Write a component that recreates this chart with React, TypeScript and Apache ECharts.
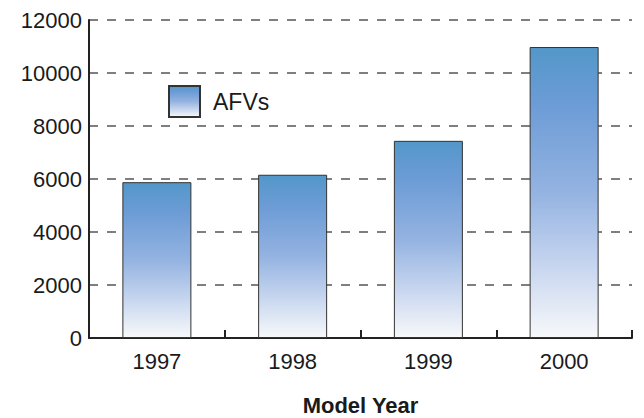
import React, { useEffect, useRef } from "react";
import * as echarts from "echarts";

const categories = ["1997", "1998", "1999", "2000"];
const afvValues = [5880, 6160, 7440, 10980];
const yTicks = { min: 0, max: 12000, interval: 2000 };

export default function App() {
  const ref = useRef<HTMLDivElement>(null);
  useEffect(() => {
    if (!ref.current) return;
    const chart = echarts.init(ref.current, undefined, { renderer: "svg" });
    const grad = new echarts.graphic.LinearGradient(0, 0, 0, 1, [
      { offset: 0, color: "#5397c9" },
      { offset: 0.2, color: "#6d9cd6" },
      { offset: 0.5, color: "#94b3e1" },
      { offset: 0.75, color: "#c6d5ef" },
      { offset: 1, color: "#f7f9fa" },
    ]);
    const font = "'Liberation Sans', Arial, sans-serif";
    chart.setOption({
      animation: false,
      textStyle: { fontFamily: font },
      grid: { left: 89, right: 12, top: 20, bottom: 80, containLabel: false, outerBoundsMode: "none" },
      legend: {
        left: 168,
        top: 85,
        padding: 0,
        itemWidth: 31,
        itemHeight: 31,
        icon: "rect",
        itemGap: 10,
        textStyle: { fontSize: 23, color: "#1a1a1a", fontFamily: font, padding: [0, 0, 0, 8] },
        data: ["AFVs"],
      },
      xAxis: {
        type: "category",
        data: categories,
        name: "Model Year",
        nameLocation: "middle",
        nameGap: 56,
        nameTextStyle: { fontSize: 22, fontWeight: "bold", color: "#1a1a1a", fontFamily: font },
        axisLine: { lineStyle: { color: "#222", width: 2 } },
        axisTick: { show: true, inside: true, length: 8, lineStyle: { color: "#222", width: 2 } },
        axisLabel: { fontSize: 22, color: "#1a1a1a", margin: 12, fontFamily: font },
      },
      yAxis: {
        type: "value",
        min: yTicks.min,
        max: yTicks.max,
        interval: yTicks.interval,
        axisLine: { show: true, lineStyle: { color: "#222", width: 2 } },
        axisTick: { show: false },
        axisLabel: {
          fontSize: 22,
          color: "#1a1a1a",
          margin: 7,
          fontFamily: font,
          formatter: (v: number) => String(v),
        },
        splitLine: { show: true, lineStyle: { color: "#555", width: 1.5, type: [9, 9] } },
      },
      series: [
        {
          name: "AFVs",
          type: "bar",
          data: afvValues,
          barWidth: 69,
          itemStyle: { color: grad, borderColor: "#333", borderWidth: 1 },
        },
      ],
    });
    return () => chart.dispose();
  }, []);
  return <div ref={ref} style={{ width: 644, height: 418, position: "absolute", left: 0, top: 0 }} />;
}
